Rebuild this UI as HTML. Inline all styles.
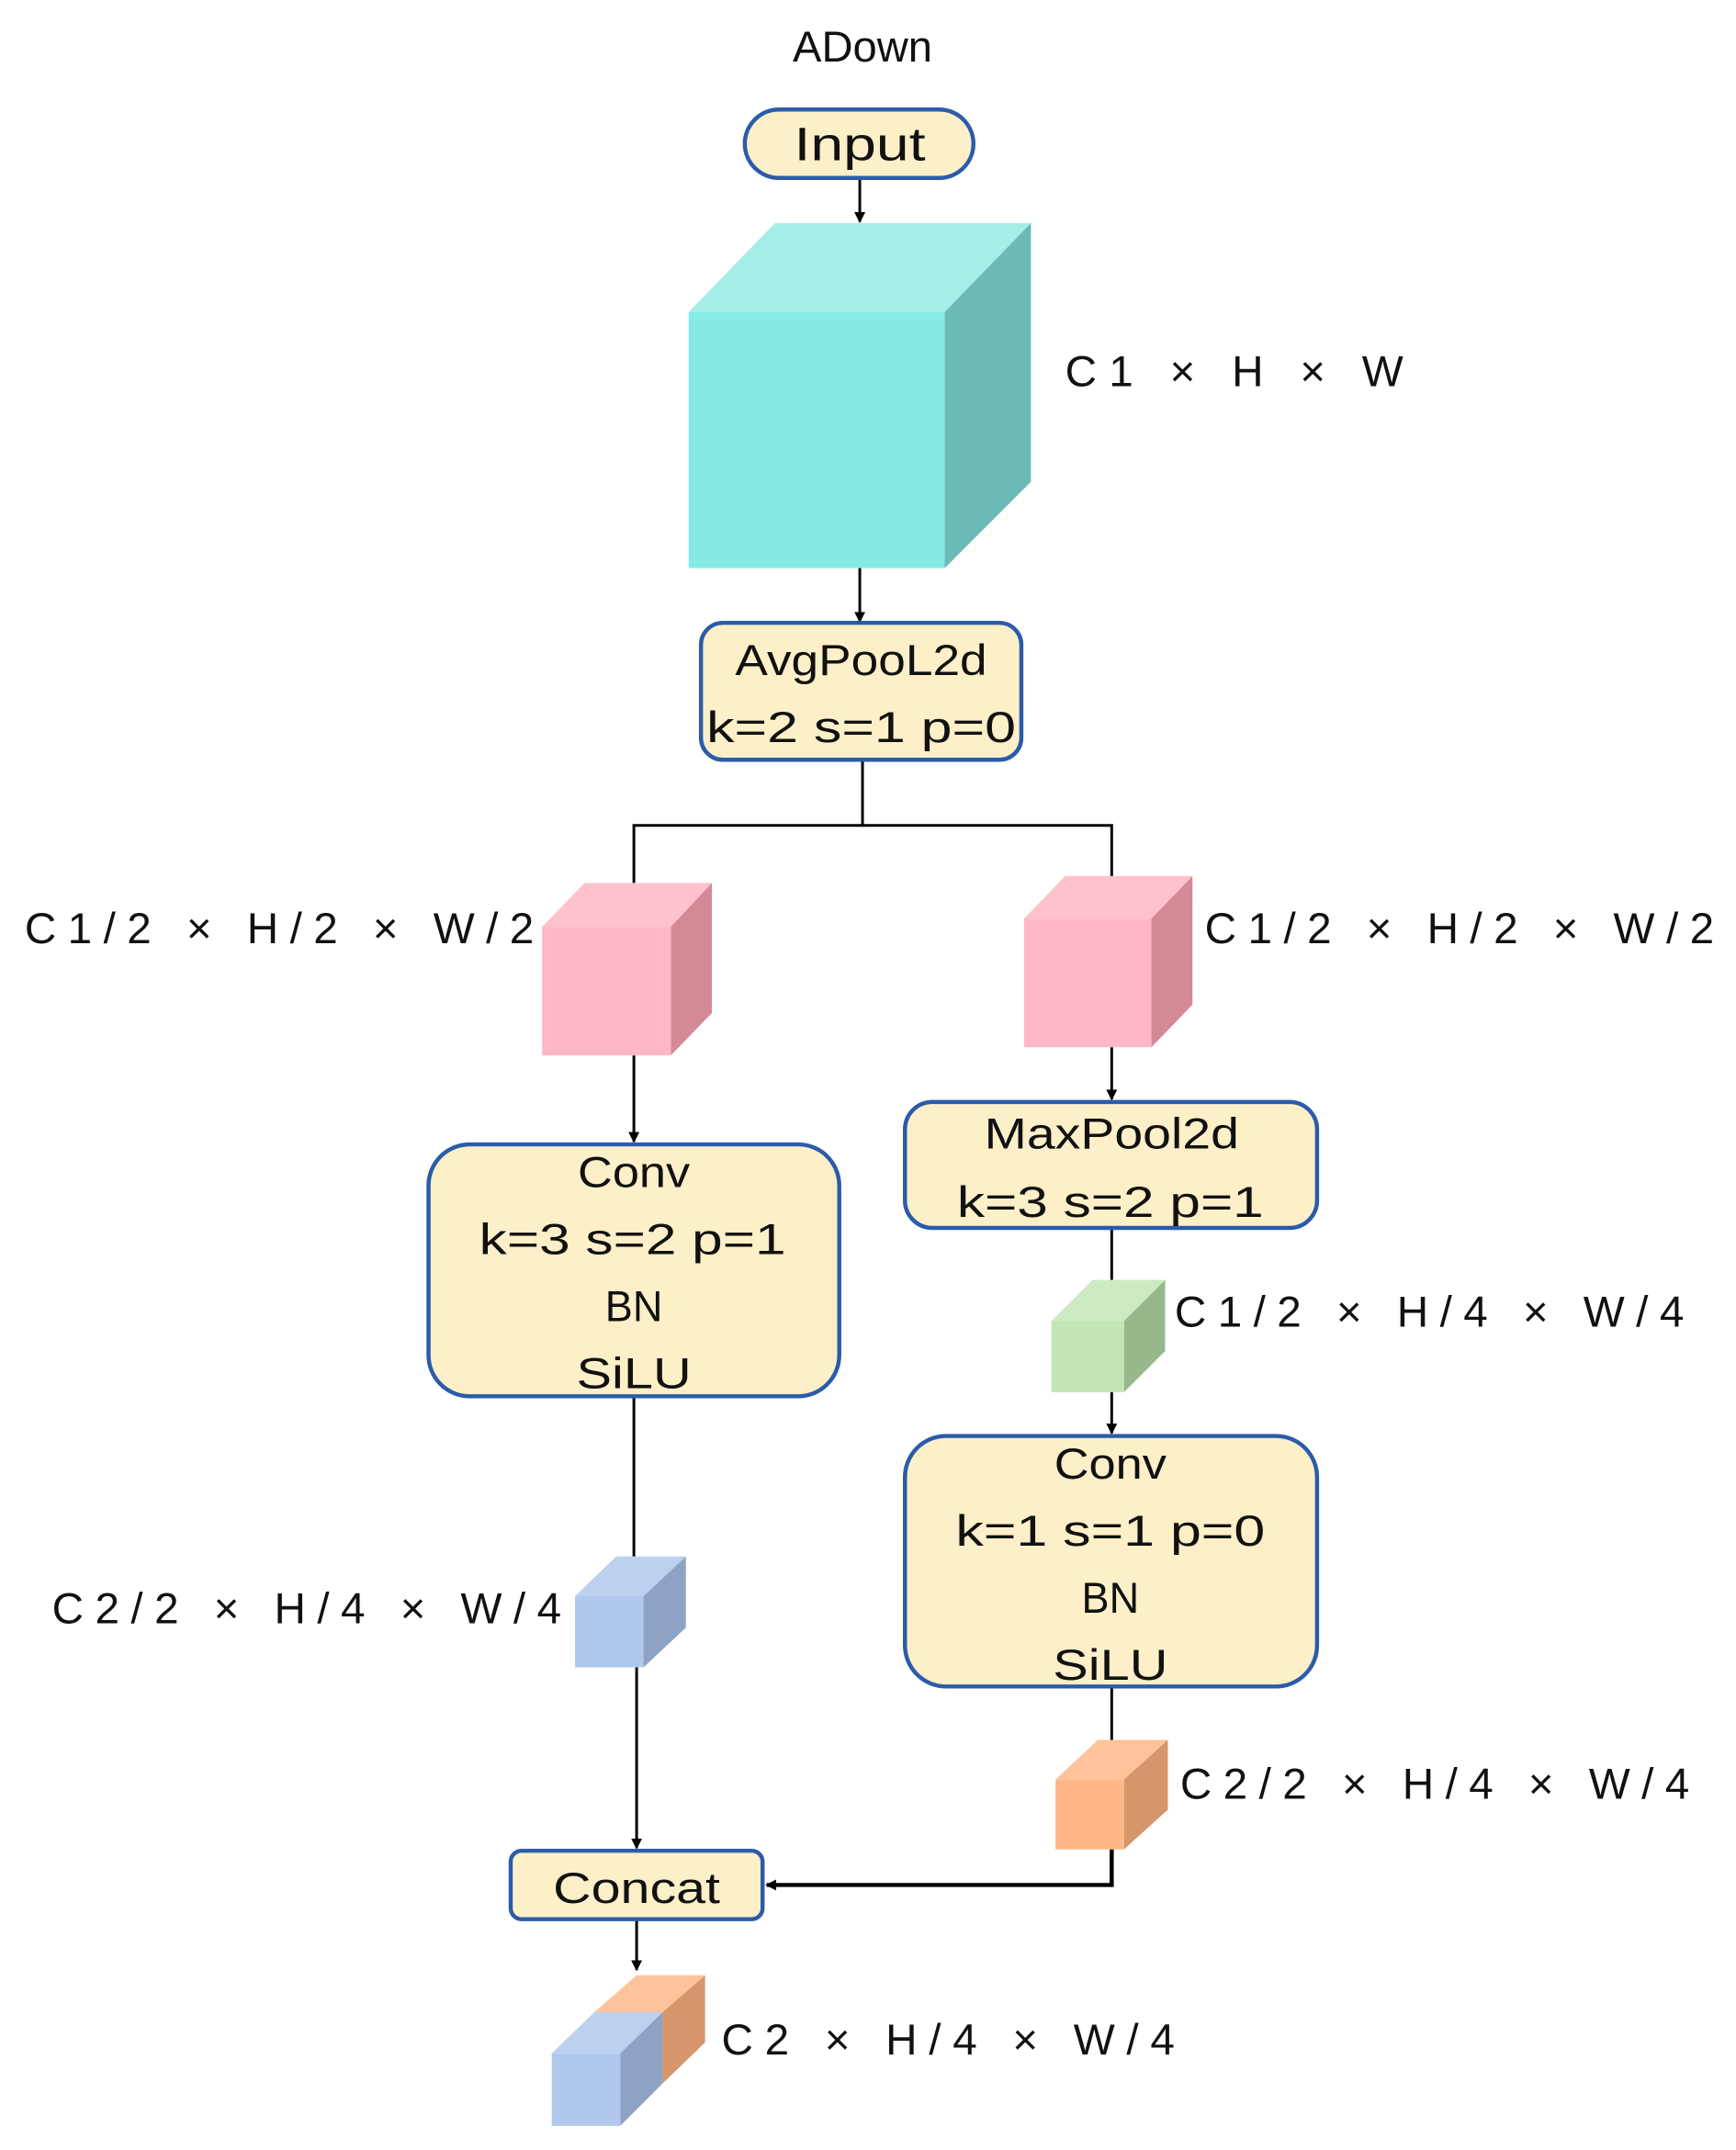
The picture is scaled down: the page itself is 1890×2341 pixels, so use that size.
<!DOCTYPE html>
<html><head><meta charset="utf-8"><style>
html,body{margin:0;padding:0;background:#fff;}
svg{display:block;}
text{font-family:"Liberation Sans","Noto Sans CJK SC",sans-serif;fill:#111;}
</style></head><body>
<svg width="1890" height="2341" viewBox="0 0 1268 1570.6" preserveAspectRatio="none" xmlns="http://www.w3.org/2000/svg">
<defs>
<marker id="ah" markerWidth="8" markerHeight="8" refX="7" refY="4" orient="auto" markerUnits="userSpaceOnUse"><path d="M0,0 L8,4 L0,8 Z" fill="#000"/></marker>
</defs>
<rect width="1268" height="1571" fill="#fff"/>
<g stroke="#000" stroke-width="2" fill="none">
<line x1="628" y1="130" x2="628" y2="162" marker-end="url(#ah)"/>
<line x1="628" y1="415" x2="628" y2="454" marker-end="url(#ah)"/>
<polyline points="630,555 630,603 463,603 463,645"/>
<polyline points="630,603 812,603 812,640"/>
<line x1="463" y1="771" x2="463" y2="834" marker-end="url(#ah)"/>
<line x1="812" y1="765" x2="812" y2="803" marker-end="url(#ah)"/>
<line x1="812" y1="897" x2="812" y2="935"/>
<line x1="812" y1="1017" x2="812" y2="1047" marker-end="url(#ah)"/>
<line x1="463" y1="1020" x2="463" y2="1137"/>
<line x1="465" y1="1218" x2="465" y2="1350" marker-end="url(#ah)"/>
<line x1="812" y1="1232" x2="812" y2="1271"/>
<polyline points="812,1351 812,1377 560,1377" stroke-width="3" marker-end="url(#ah)"/>
<line x1="465" y1="1402" x2="465" y2="1439" marker-end="url(#ah)"/>
</g>
<!-- boxes -->
<g fill="#fdefc8" stroke="#2a5caa" stroke-width="3">
<rect x="544" y="80" width="167" height="50" rx="25"/>
<rect x="512" y="455" width="234" height="100" rx="16"/>
<rect x="313" y="836" width="300" height="184" rx="30"/>
<rect x="661" y="805" width="301" height="92" rx="20"/>
<rect x="661" y="1049" width="301" height="183" rx="30"/>
<rect x="373" y="1352" width="184" height="50" rx="8"/>
</g>
<!-- cyan cube -->
<polygon points="503,228 566,163 753,163 690,228" fill="#a5ede8"/>
<polygon points="690,228 753,163 753,352 690,415" fill="#6bbab5"/>
<rect x="503" y="228" width="187" height="187" fill="#86eae4"/>
<!-- pink left -->
<polygon points="396,677 427,645 520,645 490,677" fill="#ffc2cd"/>
<polygon points="490,677 520,645 520,740 490,771" fill="#d48a96"/>
<rect x="396" y="677" width="94" height="94" fill="#ffb7c5"/>
<!-- pink right -->
<polygon points="748,671 778,640 871,640 841,671" fill="#ffc2cd"/>
<polygon points="841,671 871,640 871,734 841,765" fill="#d48a96"/>
<rect x="748" y="671" width="93" height="94" fill="#ffb7c5"/>
<!-- green -->
<polygon points="768,965 798,935 851,935 821,965" fill="#cdebc2"/>
<polygon points="821,965 851,935 851,987 821,1017" fill="#95b98a"/>
<rect x="768" y="965" width="53" height="52" fill="#c1e5b5"/>
<!-- blue -->
<polygon points="420,1166 450,1137 501,1137 470,1166" fill="#bcd0ef"/>
<polygon points="470,1166 501,1137 501,1189 470,1218" fill="#8ea3c3"/>
<rect x="420" y="1166" width="50" height="52" fill="#b0c8ec"/>
<!-- orange -->
<polygon points="771,1300 802,1271 853,1271 821,1300" fill="#ffc39b"/>
<polygon points="821,1300 853,1271 853,1322 821,1351" fill="#d6956a"/>
<rect x="771" y="1300" width="50" height="51" fill="#ffb787"/>
<!-- final composite -->
<polygon points="434,1470 465,1443 515,1443 484,1470" fill="#ffc39b"/>
<polygon points="484,1470 515,1443 515,1492 484,1522" fill="#d6956a"/>
<polygon points="403,1500 434,1470 484,1470 453,1500" fill="#bcd0ef"/>
<polygon points="453,1500 484,1470 484,1522 453,1553" fill="#8ea3c3"/>
<rect x="403" y="1500" width="50" height="53" fill="#b0c8ec"/>
<!-- text -->
<g font-size="32" text-anchor="middle">
<text x="630" y="45" textLength="102" lengthAdjust="spacingAndGlyphs">ADown</text>
<text x="628" y="117" font-size="34" textLength="96" lengthAdjust="spacingAndGlyphs">Input</text>
<text x="629" y="493" textLength="184" lengthAdjust="spacingAndGlyphs">AvgPooL2d</text>
<text x="629" y="542" textLength="226" lengthAdjust="spacingAndGlyphs">k=2  s=1  p=0</text>
<text x="463" y="867" textLength="82" lengthAdjust="spacingAndGlyphs">Conv</text>
<text x="462" y="916" textLength="224" lengthAdjust="spacingAndGlyphs">k=3  s=2  p=1</text>
<text x="463" y="965" textLength="42" lengthAdjust="spacingAndGlyphs">BN</text>
<text x="463" y="1014" textLength="84" lengthAdjust="spacingAndGlyphs">SiLU</text>
<text x="812" y="839" textLength="186" lengthAdjust="spacingAndGlyphs">MaxPool2d</text>
<text x="811" y="889" textLength="224" lengthAdjust="spacingAndGlyphs">k=3  s=2  p=1</text>
<text x="811" y="1080" textLength="82" lengthAdjust="spacingAndGlyphs">Conv</text>
<text x="811" y="1129" textLength="226" lengthAdjust="spacingAndGlyphs">k=1  s=1  p=0</text>
<text x="811" y="1178" textLength="42" lengthAdjust="spacingAndGlyphs">BN</text>
<text x="811" y="1227" textLength="84" lengthAdjust="spacingAndGlyphs">SiLU</text>
<text x="465" y="1390" textLength="122" lengthAdjust="spacingAndGlyphs">Concat</text>
</g>
<g font-size="32">
<text x="778" y="282" textLength="247" lengthAdjust="spacing">C1  ×  H  ×  W</text>
<text x="18" y="689" textLength="372" lengthAdjust="spacing">C1/2  ×  H/2  ×  W/2</text>
<text x="880" y="689" textLength="372" lengthAdjust="spacing">C1/2  ×  H/2  ×  W/2</text>
<text x="858" y="969" textLength="372" lengthAdjust="spacing">C1/2  ×  H/4  ×  W/4</text>
<text x="38" y="1186" textLength="372" lengthAdjust="spacing">C2/2  ×  H/4  ×  W/4</text>
<text x="862" y="1314" textLength="372" lengthAdjust="spacing">C2/2  ×  H/4  ×  W/4</text>
<text x="527" y="1501" textLength="331" lengthAdjust="spacing">C2  ×  H/4  ×  W/4</text>
</g>
</svg>
</body></html>
